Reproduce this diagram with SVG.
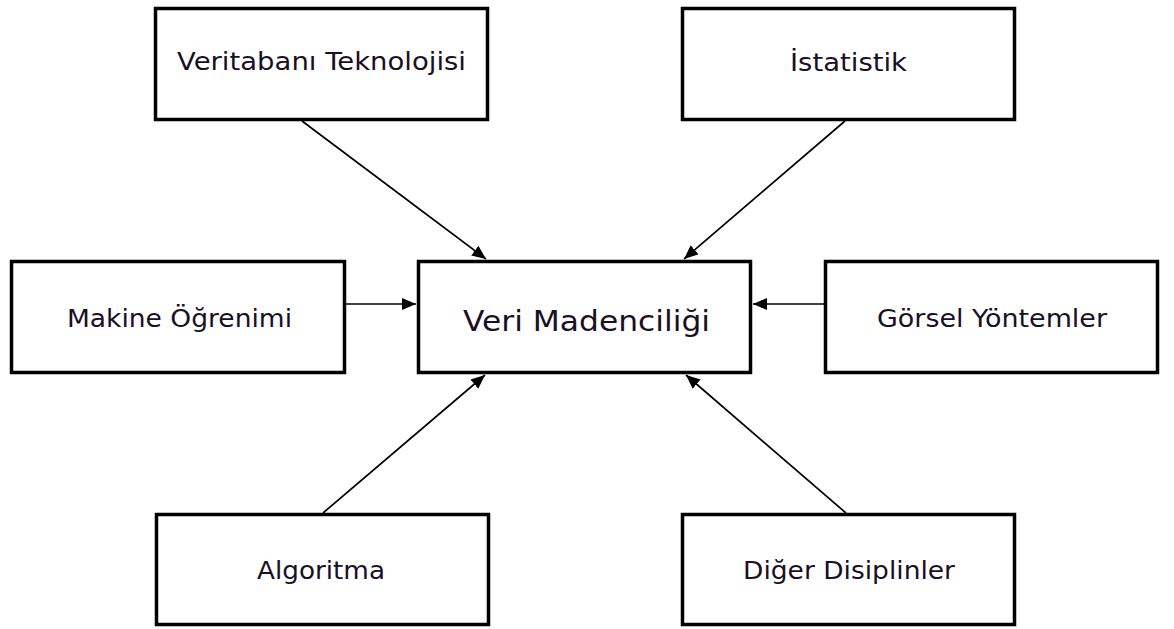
<svg xmlns="http://www.w3.org/2000/svg" width="1174" height="629" viewBox="0 0 1174 629">
<style>
.box{fill:#ffffff;stroke:#000000;stroke-width:3.5}
.lbl{font-family:"DejaVu Sans","Liberation Sans",sans-serif;font-size:24px;fill:#1a0f24}
.big{font-size:29px}
.con{stroke:#000000;stroke-width:1.7;fill:none;marker-end:url(#ah)}
</style>
<defs>
<marker id="ah" markerUnits="userSpaceOnUse" markerWidth="15" markerHeight="13" refX="14" refY="6" orient="auto">
<path d="M0,0 L14,6 L0,12 z" fill="#000000"/>
</marker>
</defs>
<rect width="1174" height="629" fill="#ffffff"/>
<g id="connectors">
<line class="con" x1="302" y1="121" x2="486" y2="259"/>
<line class="con" x1="845" y1="121" x2="684" y2="259"/>
<line class="con" x1="346" y1="304" x2="416" y2="304"/>
<line class="con" x1="824" y1="304" x2="753" y2="304"/>
<line class="con" x1="323" y1="513" x2="485" y2="375"/>
<line class="con" x1="846" y1="513" x2="686" y2="375"/>
</g>
<g id="node-veritabani">
<rect class="box" x="155.5" y="8.5" width="332" height="111"/>
<text class="lbl" x="177" y="70" textLength="289" lengthAdjust="spacingAndGlyphs">Veritabanı Teknolojisi</text>
</g>
<g id="node-istatistik">
<rect class="box" x="682.5" y="8.5" width="332" height="111"/>
<text class="lbl" x="790" y="71" textLength="117" lengthAdjust="spacingAndGlyphs">İstatistik</text>
</g>
<g id="node-makine">
<rect class="box" x="11.5" y="261.5" width="333" height="111"/>
<text class="lbl" x="67" y="327" textLength="225" lengthAdjust="spacingAndGlyphs">Makine Öğrenimi</text>
</g>
<g id="node-veri-madenciligi">
<rect class="box" x="418.5" y="261.5" width="332" height="111"/>
<text class="lbl big" x="463" y="331" textLength="247" lengthAdjust="spacingAndGlyphs">Veri Madenciliği</text>
</g>
<g id="node-gorsel">
<rect class="box" x="825.5" y="261.5" width="332" height="111"/>
<text class="lbl" x="877" y="327" textLength="230" lengthAdjust="spacingAndGlyphs">Görsel Yöntemler</text>
</g>
<g id="node-algoritma">
<rect class="box" x="156.5" y="514.5" width="332" height="110"/>
<text class="lbl" x="257" y="579" textLength="128" lengthAdjust="spacingAndGlyphs">Algoritma</text>
</g>
<g id="node-diger">
<rect class="box" x="682.5" y="514.5" width="332" height="110"/>
<text class="lbl" x="743" y="579" textLength="212" lengthAdjust="spacingAndGlyphs">Diğer Disiplinler</text>
</g>
</svg>
